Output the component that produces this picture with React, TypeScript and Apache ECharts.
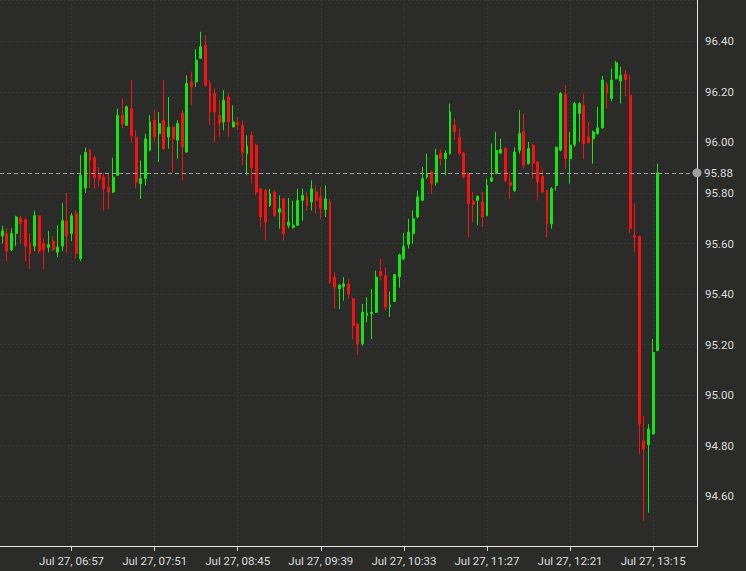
import React, { useEffect, useRef } from "react";
import * as echarts from "echarts";

// 3-minute candles, Jul 27, first slot 06:12
const startTime = "06:12";
const stepMinutes = 3;
const slotCount = 151; // axis slots (data + empty space on right)

// [open, close, low, high]
const candles: number[][] = [
  [95.63, 95.65, 95.6, 95.67],
  [95.64, 95.57, 95.53, 95.66],
  [95.575, 95.64, 95.57, 95.66],
  [95.64, 95.705, 95.59, 95.71],
  [95.7, 95.68, 95.6, 95.71],
  [95.695, 95.59, 95.53, 95.7],
  [95.6, 95.56, 95.5, 95.64],
  [95.59, 95.71, 95.57, 95.73],
  [95.71, 95.57, 95.56, 95.71],
  [95.6, 95.575, 95.5, 95.62],
  [95.585, 95.595, 95.565, 95.65],
  [95.61, 95.575, 95.57, 95.63],
  [95.566, 95.586, 95.546, 95.672],
  [95.59, 95.69, 95.57, 95.76],
  [95.69, 95.63, 95.565, 95.8],
  [95.64, 95.71, 95.61, 95.72],
  [95.72, 95.56, 95.54, 95.73],
  [95.54, 95.87, 95.53, 95.95],
  [95.82, 95.96, 95.8, 95.98],
  [95.97, 95.93, 95.82, 95.975],
  [95.94, 95.86, 95.817, 95.949],
  [95.874, 95.855, 95.824, 95.903],
  [95.863, 95.817, 95.731, 95.878],
  [95.821, 95.804, 95.738, 95.876],
  [95.804, 95.863, 95.8, 95.94],
  [95.87, 96.108, 95.87, 96.134],
  [96.108, 96.075, 96.056, 96.174],
  [96.068, 96.141, 96.068, 96.147],
  [96.134, 96.028, 96.002, 96.247],
  [96.019, 95.843, 95.817, 96.048],
  [95.837, 95.857, 95.777, 95.929],
  [95.857, 96.015, 95.83, 96.035],
  [95.969, 96.081, 95.965, 96.108],
  [96.088, 96.022, 96.0, 96.128],
  [96.035, 96.075, 95.923, 96.121],
  [96.088, 95.976, 95.97, 96.247],
  [96.022, 96.061, 95.976, 96.18],
  [96.061, 96.015, 95.883, 96.065],
  [96.009, 96.075, 95.936, 96.088],
  [96.115, 95.982, 95.85, 96.128],
  [95.962, 96.233, 95.96, 96.266],
  [96.24, 96.22, 96.147, 96.28],
  [96.24, 96.326, 96.22, 96.369],
  [96.333, 96.379, 96.33, 96.438],
  [96.385, 96.227, 96.22, 96.425],
  [96.233, 96.121, 96.068, 96.247],
  [96.194, 96.121, 96.0, 96.214],
  [96.108, 96.075, 96.022, 96.167],
  [96.081, 96.167, 96.048, 96.207],
  [96.18, 96.081, 96.022, 96.194],
  [96.061, 96.081, 96.061, 96.147],
  [96.08, 96.07, 96.05, 96.1],
  [96.068, 95.96, 95.91, 96.088],
  [95.956, 95.986, 95.87, 96.028],
  [96.028, 95.9, 95.838, 96.042],
  [95.989, 95.804, 95.79, 95.995],
  [95.817, 95.705, 95.665, 95.82],
  [95.81, 95.685, 95.612, 95.815],
  [95.751, 95.797, 95.745, 95.817],
  [95.804, 95.711, 95.705, 95.81],
  [95.724, 95.738, 95.659, 95.79],
  [95.777, 95.639, 95.612, 95.78],
  [95.672, 95.685, 95.66, 95.78],
  [95.664, 95.672, 95.659, 95.77],
  [95.672, 95.771, 95.67, 95.817],
  [95.771, 95.79, 95.69, 95.818],
  [95.784, 95.751, 95.731, 95.804],
  [95.764, 95.817, 95.731, 95.85],
  [95.804, 95.771, 95.718, 95.83],
  [95.784, 95.738, 95.698, 95.824],
  [95.734, 95.777, 95.705, 95.83],
  [95.764, 95.447, 95.44, 95.777],
  [95.467, 95.427, 95.341, 95.486],
  [95.421, 95.434, 95.34, 95.44],
  [95.43, 95.44, 95.374, 95.467],
  [95.44, 95.4, 95.381, 95.46],
  [95.381, 95.275, 95.222, 95.385],
  [95.282, 95.203, 95.16, 95.285],
  [95.203, 95.328, 95.196, 95.361],
  [95.315, 95.324, 95.288, 95.387],
  [95.322, 95.328, 95.222, 95.42],
  [95.328, 95.467, 95.325, 95.493],
  [95.489, 95.473, 95.454, 95.54],
  [95.473, 95.348, 95.335, 95.506],
  [95.35, 95.357, 95.31, 95.41],
  [95.371, 95.477, 95.368, 95.48],
  [95.469, 95.555, 95.425, 95.56],
  [95.54, 95.588, 95.535, 95.641],
  [95.596, 95.645, 95.58, 95.698],
  [95.639, 95.698, 95.599, 95.731],
  [95.705, 95.784, 95.7, 95.81],
  [95.771, 95.857, 95.768, 95.903],
  [95.863, 95.877, 95.857, 95.956],
  [95.883, 95.837, 95.797, 95.89],
  [95.843, 95.949, 95.83, 95.976],
  [95.958, 95.936, 95.91, 95.972],
  [95.936, 95.958, 95.87, 95.969],
  [95.956, 96.121, 95.952, 96.154],
  [96.068, 96.042, 96.009, 96.095],
  [96.019, 95.958, 95.949, 96.055],
  [95.958, 95.863, 95.857, 95.962],
  [95.877, 95.758, 95.625, 95.88],
  [95.767, 95.755, 95.685, 95.804],
  [95.771, 95.787, 95.672, 95.79],
  [95.764, 95.705, 95.665, 95.804],
  [95.711, 95.83, 95.708, 95.857],
  [95.847, 95.86, 95.843, 95.996],
  [95.877, 95.969, 95.875, 96.042],
  [95.958, 95.972, 95.955, 96.015],
  [95.976, 95.85, 95.843, 95.982],
  [95.843, 95.83, 95.777, 95.879],
  [95.81, 95.962, 95.805, 95.98],
  [95.969, 96.035, 95.956, 96.128],
  [96.042, 95.91, 95.896, 96.115],
  [95.916, 95.976, 95.913, 96.002],
  [95.989, 95.919, 95.857, 95.995],
  [95.923, 95.843, 95.771, 95.925],
  [95.866, 95.804, 95.8, 95.896],
  [95.81, 95.678, 95.625, 95.812],
  [95.678, 95.817, 95.659, 95.824],
  [95.83, 95.98, 95.81, 95.985],
  [95.97, 96.194, 95.965, 96.2],
  [96.19, 95.936, 95.896, 96.227],
  [95.936, 95.989, 95.837, 96.042],
  [95.992, 96.154, 95.982, 96.16],
  [96.115, 96.154, 96.002, 96.16],
  [96.147, 95.996, 95.936, 96.194],
  [96.022, 96.0, 95.996, 96.081],
  [96.015, 96.042, 95.916, 96.048],
  [96.035, 96.058, 96.031, 96.141],
  [96.058, 96.247, 96.055, 96.264],
  [96.23, 96.194, 96.134, 96.24],
  [96.174, 96.247, 96.163, 96.293],
  [96.253, 96.315, 96.25, 96.323],
  [96.243, 96.266, 96.154, 96.3],
  [96.27, 96.249, 96.183, 96.286],
  [96.187, 95.659, 95.641, 96.266],
  [95.633, 95.625, 95.566, 95.758],
  [95.628, 94.885, 94.766, 95.63],
  [94.819, 94.786, 94.502, 94.918],
  [94.803, 94.866, 94.535, 94.885],
  [94.846, 95.169, 94.845, 95.222],
  [95.176, 95.88, 95.175, 95.916],
];

const lastPrice = 95.88;
const yTickLabels = ["94.60", "94.80", "95.00", "95.20", "95.40", "95.60", "95.80", "96.00", "96.20", "96.40"];
const firstLabelSlot = 15; // 06:57
const labelEvery = 18; // 54 minutes

function pad(n: number) {
  return n < 10 ? "0" + n : "" + n;
}
function buildCategories(): string[] {
  const [h, m] = startTime.split(":").map(Number);
  const base = h * 60 + m;
  const out: string[] = [];
  for (let i = 0; i < slotCount; i++) {
    const t = base + i * stepMinutes;
    out.push(pad(Math.floor(t / 60)) + ":" + pad(t % 60));
  }
  return out;
}

const UP = "#14e614";
const DOWN = "#f51212";
const TEXT = "#dcdcdc";
const AXIS = "#e6e6e6";
const GRID = "#363735";
const BG = "#2b2c2a";
const FONT = "Roboto";

export default function App() {
  const ref = useRef<HTMLDivElement>(null);
  useEffect(() => {
    if (!ref.current) return;
    const chart = echarts.init(ref.current, undefined, { renderer: "svg" });
    const categories = buildCategories();
    const showAt = (i: number) => i >= firstLabelSlot && (i - firstLabelSlot) % labelEvery === 0;
    chart.setOption({
      animation: false,
      backgroundColor: BG,
      grid: { left: -1.7, right: 49, top: 0, bottom: 24.3, containLabel: false },
      xAxis: {
        type: "category",
        data: categories,
        boundaryGap: true,
        axisLine: { show: true, onZero: false, lineStyle: { color: AXIS, width: 1 } },
        axisTick: {
          show: true,
          alignWithLabel: true,
          interval: (i: number) => showAt(i),
          length: 4,
          lineStyle: { color: AXIS },
        },
        axisLabel: {
          interval: (i: number) => showAt(i),
          formatter: (v: string) => "Jul 27, " + v,
          color: TEXT,
          fontSize: 11.5,
          fontFamily: FONT,
          margin: 8,
        },
        splitLine: {
          show: true,
          alignWithLabel: true,
          interval: (i: number) => showAt(i),
          lineStyle: { color: GRID, type: [2, 2], width: 1 },
        },
      },
      yAxis: {
        type: "value",
        position: "right",
        min: 94.4,
        max: 96.564,
        interval: 0.2,
        axisLine: { show: true, lineStyle: { color: AXIS, width: 1 } },
        axisTick: { show: false },
        axisLabel: {
          color: TEXT,
          fontSize: 11.5,
          fontFamily: FONT,
          margin: 8,
          showMinLabel: false,
          showMaxLabel: false,
          formatter: (v: number) => {
            const s = v.toFixed(2);
            return yTickLabels.indexOf(s) >= 0 && Math.abs(v - Number(s)) < 1e-6 ? s : "";
          },
        },
        splitLine: { show: true, lineStyle: { color: GRID, type: [2, 2], width: 1 } },
      },
      series: [
        {
          type: "candlestick",
          data: candles,
          barWidth: 2.4,
          itemStyle: {
            color: UP,
            color0: DOWN,
            borderColor: UP,
            borderColor0: DOWN,
            borderWidth: 1,
          },
          markLine: {
            silent: true,
            symbol: ["none", "circle"],
            symbolSize: 9,
            animation: false,
            itemStyle: { color: "#8c8c8c" },
            lineStyle: { color: "#a0a0a0", type: [4, 3], width: 1 },
            label: {
              show: true,
              position: "end",
              distance: 7,
              formatter: lastPrice.toFixed(2),
              color: TEXT,
              fontSize: 11.5,
              fontFamily: FONT,
            },
            data: [{ yAxis: lastPrice }],
          },
        },
      ],
    });
    return () => chart.dispose();
  }, []);
  return (
    <div
      ref={ref}
      style={{ position: "fixed", left: 0, top: 0, width: 746, height: 571 }}
    />
  );
}
